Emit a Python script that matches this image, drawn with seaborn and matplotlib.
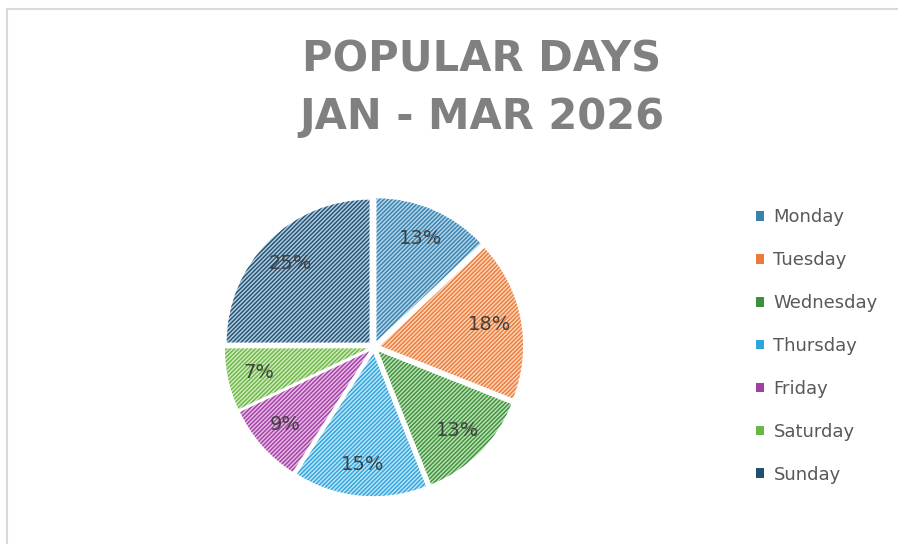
import matplotlib
matplotlib.use("Agg")
import matplotlib.pyplot as plt
from matplotlib.lines import Line2D
import seaborn as sns

days = ["Monday", "Tuesday", "Wednesday", "Thursday", "Friday", "Saturday", "Sunday"]
shares = [13, 18, 13, 15, 9, 7, 25]
fill_colors = ["#aed4ea", "#fcd3b4", "#badfb1", "#bae4f7", "#e5b8e4", "#cfeab9", "#aecbdf"]
hatch_colors = ["#3a80ab", "#ec7a3c", "#3d8f3d", "#2ea3dc", "#a23fa2", "#6bb54a", "#234f70"]

sns.set_theme(style="white")
plt.rcParams["font.family"] = ["DejaVu Sans"]
plt.rcParams["hatch.linewidth"] = 1.0

fig = plt.figure(figsize=(8.98, 5.44), dpi=100)

# pie axes: centre ~ (374, 347) px
cx, cy, half = 374, 347, 157
ax = fig.add_axes([(cx - half) / 898, 1 - (cy + half) / 544, 2 * half / 898, 2 * half / 544])
wedges, texts, autotexts = ax.pie(
    shares,
    colors=fill_colors,
    startangle=90,
    counterclock=False,
    explode=[0.045] * len(shares),
    autopct="%1.0f%%",
    pctdistance=0.78,
    wedgeprops=dict(linewidth=0),
    textprops=dict(color="#404040", fontsize=14),
)
for w, hc in zip(wedges, hatch_colors):
    w.set_hatch("/" * 8)
    w.set_edgecolor(hc)
    w.set_linewidth(0)
ax.set_xlim(-1.1, 1.1)
ax.set_ylim(-1.1, 1.1)
ax.set_aspect("equal")
ax.axis("off")

fig.text(482 / 898, 1 - 60 / 544, "POPULAR DAYS", ha="center", va="center",
         fontsize=30, fontweight="bold", color="#808080")
fig.text(482 / 898, 1 - 117 / 544, "JAN - MAR 2026", ha="center", va="center",
         fontsize=30, fontweight="bold", color="#808080")

handles = [plt.Rectangle((0, 0), 1, 1, facecolor=c, edgecolor="none") for c in hatch_colors]
fig.legend(handles, days, loc="center left", bbox_to_anchor=(740 / 898, 1 - 346 / 544),
           frameon=False, fontsize=13, labelcolor="#595959",
           handlelength=0.45, handleheight=0.45, handletextpad=0.5, labelspacing=1.38)

# chart border
bc = "#d9d9d9"
fig.add_artist(Line2D([7 / 898, 1], [1 - 9 / 544, 1 - 9 / 544], color=bc, lw=1.5))
fig.add_artist(Line2D([7 / 898, 7 / 898], [0, 1 - 9 / 544], color=bc, lw=1.5))

fig.savefig("out.png", dpi=100, facecolor="white")
